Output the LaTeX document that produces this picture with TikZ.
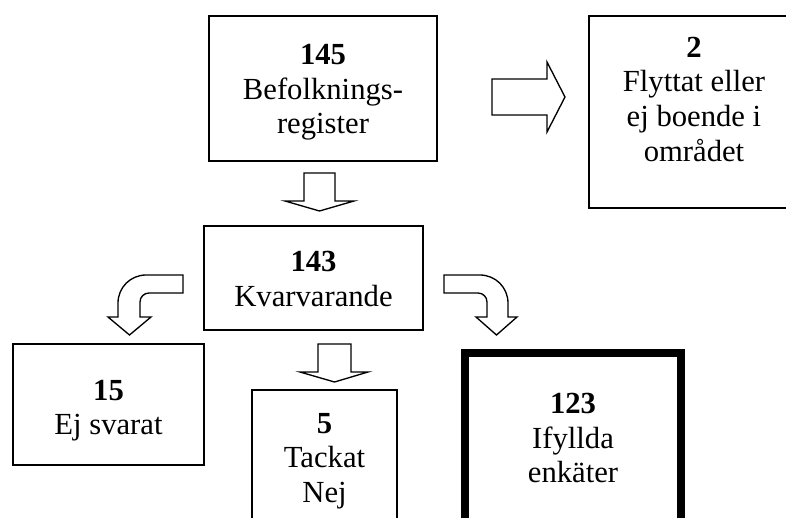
\documentclass[tikz,border=0pt]{standalone}
\usepackage{fontspec}
\setmainfont{Liberation Serif}

\tikzset{
  box/.style={draw, line width=1pt, rectangle, inner sep=0pt},
  thickbox/.style={box, line width=6pt},
  txt/.style={align=center, inner sep=0pt, font=\fontsize{23}{26}\selectfont},
  blockarrow/.style={draw, line width=1pt, fill=white, line join=miter}
}

\begin{document}
\begin{tikzpicture}[x=0.75pt,y=-0.75pt]
		\useasboundingbox (0,0) rectangle (786,518);
		\clip (0,0) rectangle (786,518);
		% boxes
		\node[box, minimum width=171pt, minimum height=108.75pt] (reg) at (323,88.5) {};
		\node[box, minimum width=158.25pt, minimum height=144pt] (moved) at (694.5,112) {};
		\node[box, minimum width=164.25pt, minimum height=78pt] (kvar) at (313.5,278) {};
		\node[box, minimum width=143.25pt, minimum height=90.75pt] (ejsv) at (108.5,404.5) {};
		\node[box, minimum width=108.75pt, minimum height=100.5pt] (tack) at (324.5,457) {};
		\node[thickbox, minimum width=161.6pt, minimum height=127.5pt] (ifyl) at (573,438) {};
		% texts
		\node[txt] (regtxt) at (323,92.5) {\textbf{145}\\Befolknings-\\register};
		\node[txt] (movedtxt) at (694,99) {\textbf{2}\\Flyttat eller\\ej boende i\\området};
		\node[txt] (kvartxt) at (313.5,279) {\textbf{143}\\Kvarvarande};
		\node[txt] (ejsvtxt) at (108.5,410.5) {\textbf{15}\\Ej svarat};
		\node[txt] (tacktxt) at (324.5,461) {\textbf{5}\\Tackat\\Nej};
		\node[txt] (ifyltxt) at (573,438) {\textbf{123}\\Ifyllda\\enkäter};
		% straight arrows
		\draw[blockarrow] (304,173)--(335,173)--(335,201)--(354,201)--(319.5,211)--(285,201)--(304,201)--cycle;
		\draw[blockarrow] (318,344)--(351,344)--(351,372)--(368,372)--(334.5,382)--(300,372)--(318,372)--cycle;
		\draw[blockarrow] (492,79)--(547,79)--(547,62)--(565,97)--(547,132)--(547,115)--(492,115)--cycle;
		% curved arrows
		\draw[blockarrow] (183,275)--(146,275) .. controls (130.5,275) and (118,287.5) .. (118,303)
			--(118,317)--(108,317)--(129.5,335)--(151,317)--(140,317)--(140,302)
			.. controls (140,297) and (144,293) .. (149,293)--(183,293)--cycle;
		\draw[blockarrow] (444,275)--(480,275) .. controls (495.5,275) and (508,287.5) .. (508,303)
			--(508,317)--(517,317)--(496.5,335)--(476,317)--(487,317)--(487,302)
			.. controls (487,297) and (483,293) .. (478,293)--(444,293)--cycle;
	\end{tikzpicture}
\end{document}
